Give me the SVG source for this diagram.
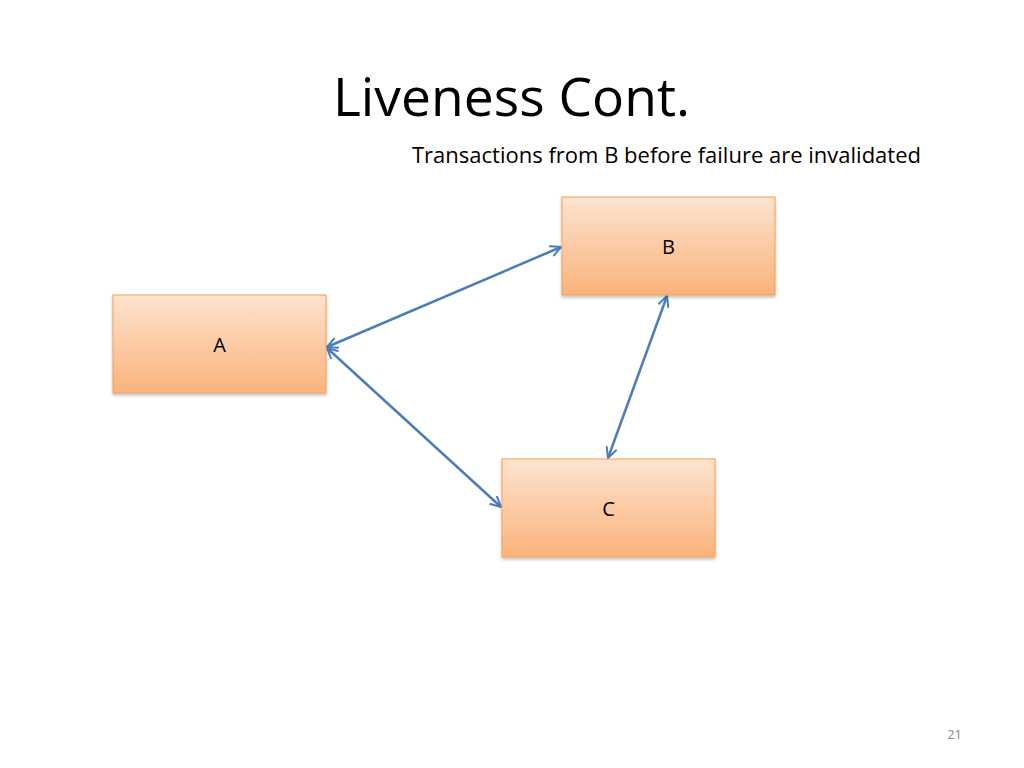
<svg xmlns="http://www.w3.org/2000/svg" width="1024" height="768" viewBox="0 0 1024 768">
  <defs>
    <linearGradient id="boxGrad" x1="0" y1="0" x2="0" y2="1">
      <stop offset="0" stop-color="#fde3cf"/>
      <stop offset="1" stop-color="#fbb37a"/>
    </linearGradient>
    <filter id="shadow" x="-10%" y="-10%" width="120%" height="130%">
      <feDropShadow dx="0" dy="2" stdDeviation="1.5" flood-color="#000" flood-opacity="0.25"/>
    </filter>
    <marker id="arrow" viewBox="0 0 12 12" refX="11" refY="6" markerWidth="12" markerHeight="12" markerUnits="userSpaceOnUse" orient="auto-start-reverse">
      <path d="M1,1 L11,6 L1,11" fill="none" stroke="#4a7ebb" stroke-width="2" stroke-linecap="round" stroke-linejoin="round"/>
    </marker>
  </defs>
  <style>
    .box { fill: url(#boxGrad); stroke: #f59d56; stroke-width: 1; filter: url(#shadow); }
    .lbl { font-family: "Open Sans", "Liberation Sans", sans-serif; font-size: 20px; fill: #000; text-anchor: middle; }
    .conn { stroke: #4a7ebb; stroke-width: 2.5; fill: none; marker-start: url(#arrow); marker-end: url(#arrow); }
  </style>
  <rect width="1024" height="768" fill="#ffffff"/>
  <text x="333" y="116" font-family="Open Sans, Liberation Sans, sans-serif" font-size="53" textLength="357" lengthAdjust="spacingAndGlyphs" fill="#000">Liveness Cont.</text>
  <text x="412" y="163" font-family="Open Sans, Liberation Sans, sans-serif" font-size="21" textLength="509" lengthAdjust="spacingAndGlyphs" fill="#000">Transactions from B before failure are invalidated</text>

  <g id="connectors">
    <line class="conn" x1="327" y1="347" x2="561" y2="247"/>
    <line class="conn" x1="327" y1="348" x2="501" y2="507"/>
    <line class="conn" x1="667" y1="296" x2="608" y2="458"/>
  </g>

  <g id="node-A">
    <rect class="box" x="113" y="295" width="213" height="98"/>
    <text class="lbl" x="219.5" y="352">A</text>
  </g>
  <g id="node-B">
    <rect class="box" x="562" y="197" width="213" height="98"/>
    <text class="lbl" x="668.5" y="254">B</text>
  </g>
  <g id="node-C">
    <rect class="box" x="502" y="459" width="213" height="98"/>
    <text class="lbl" x="608.5" y="516">C</text>
  </g>

  <text x="962" y="739" font-family="Open Sans, Liberation Sans, sans-serif" font-size="13" fill="#8c8c8c" text-anchor="end">21</text>
</svg>
